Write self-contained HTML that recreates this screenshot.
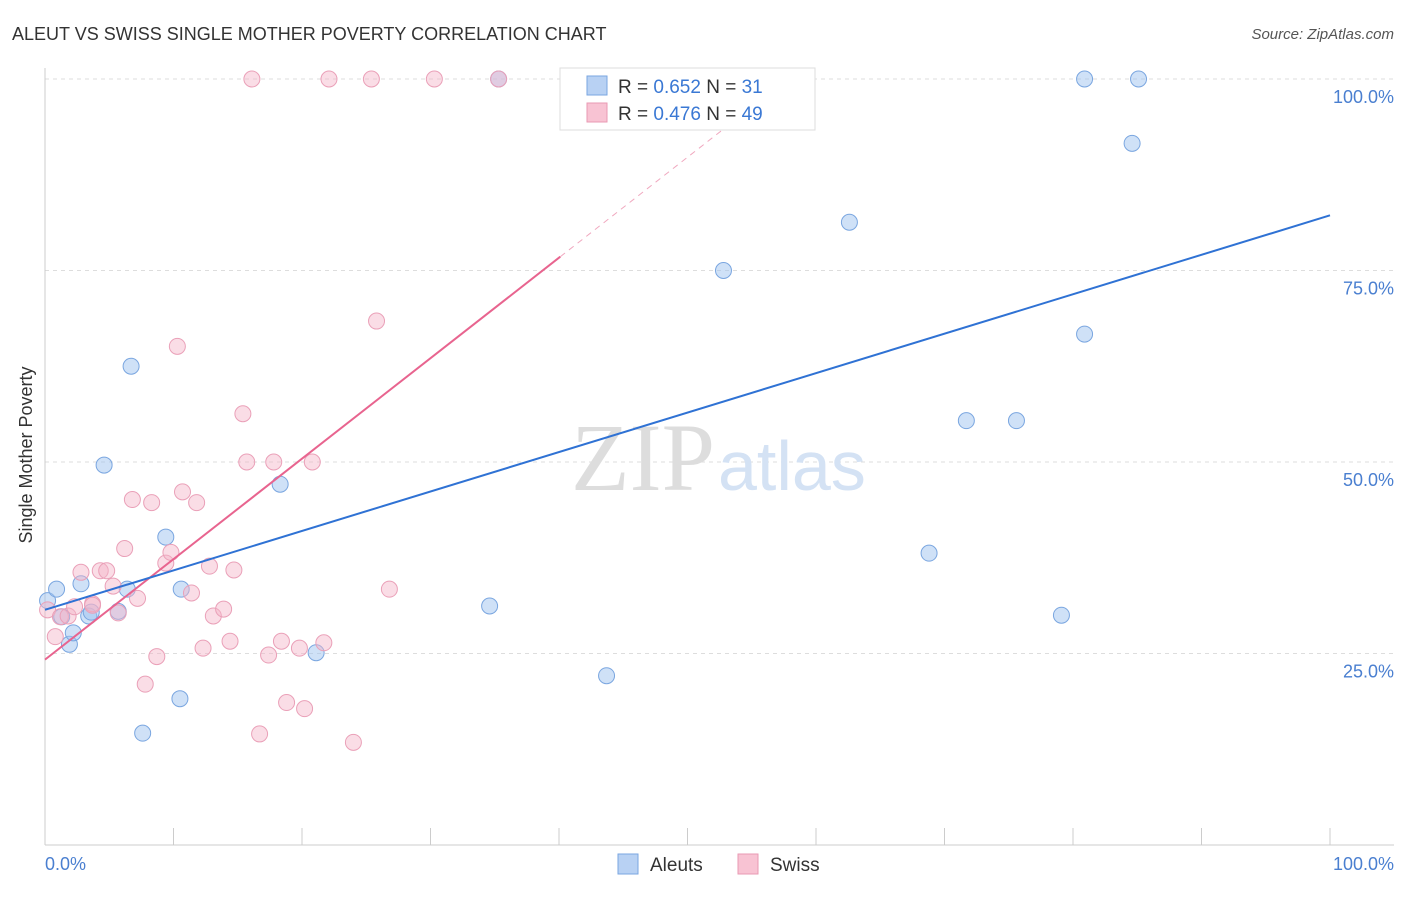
<!DOCTYPE html>
<html><head><meta charset="utf-8"><style>
body{margin:0;background:#fff;font-family:"Liberation Sans",sans-serif}
svg text{font-family:"Liberation Sans",sans-serif}
</style></head><body>
<svg width="1406" height="892">
<text x="12" y="40" font-size="18" fill="#333">ALEUT VS SWISS SINGLE MOTHER POVERTY CORRELATION CHART</text>
<text x="1394" y="39" font-size="15" fill="#555" text-anchor="end" font-style="italic">Source: ZipAtlas.com</text>
<g id="grid"></g>
<text x="715" y="490" font-size="96" fill="#ddd" text-anchor="end" style="font-family:'Liberation Serif',serif">ZIP</text>
<text x="718" y="490" font-size="70" fill="#d4e2f4">atlas</text>
<text x="32" y="455" font-size="18" fill="#333" transform="rotate(-90 32 455)" text-anchor="middle">Single Mother Poverty</text>
<text x="45" y="870" font-size="18" fill="#4a7fd0">0.0%</text>
<text x="1394" y="870" font-size="18" fill="#4a7fd0" text-anchor="end">100.0%</text>
<g id="marks"></g>
<g>
<rect x="560" y="68" width="255" height="62" fill="#fff" stroke="#ddd"/>
<rect x="587" y="76" width="20" height="19" fill="#b8d1f3" stroke="#7aa6e0"/>
<rect x="587" y="103" width="20" height="19" fill="#f8c3d3" stroke="#e99ab3"/>
<text x="618" y="93" font-size="19" fill="#333">R = <tspan fill="#3a78d4">0.652</tspan>   N = <tspan fill="#3a78d4"> 31</tspan></text>
<text x="618" y="120" font-size="19" fill="#333">R = <tspan fill="#3a78d4">0.476</tspan>   N = <tspan fill="#3a78d4">49</tspan></text>
</g>
<g>
<rect x="618" y="854" width="20" height="20" fill="#b8d1f3" stroke="#7aa6e0"/>
<text x="650" y="871" font-size="19" fill="#333">Aleuts</text>
<rect x="738" y="854" width="20" height="20" fill="#f8c3d3" stroke="#e99ab3"/>
<text x="770" y="871" font-size="19" fill="#333">Swiss</text>
</g>
</svg>
<script>
const yTicks=[25,50,75,100];
const xTicks=[0,10,20,30,40,50,60,70,80,90,100];
const aleutX=[0.2,0.9,1.9,2.2,2.8,3.4,4.6,5.7,6.4,6.7,7.6,9.4,10.6,10.5,18.3,21.1,34.6,35.3,43.7,52.8,62.6,68.8,71.7,75.6,79.1,80.9,80.9,84.6,85.1,1.3,3.6];
const aleutY=[31.9,33.4,26.2,27.7,34.1,29.9,49.6,30.5,33.4,62.5,14.6,40.2,33.4,19.1,47.1,25.1,31.2,100,22.1,75,81.3,38.1,55.4,55.4,30.0,100,66.7,91.6,100,29.8,30.4];
const swissX=[0.2,0.8,1.2,1.8,2.3,2.8,3.7,4.3,4.8,5.3,5.7,6.2,6.8,7.2,7.8,8.3,8.7,9.4,9.8,10.3,10.7,11.4,11.8,12.3,12.8,13.1,13.9,14.4,14.7,15.4,15.7,16.1,16.7,17.4,17.8,18.4,18.8,19.8,20.2,20.8,21.7,22.1,24.0,25.4,25.8,26.8,30.3,35.3,3.7];
const swissY=[30.7,27.2,29.8,29.9,31.1,35.6,31.5,35.8,35.8,33.8,30.3,38.7,45.1,32.2,21.0,44.7,24.6,36.8,38.2,65.1,46.1,32.9,44.7,25.7,36.4,29.9,30.8,26.6,35.9,56.3,50,100,14.5,24.8,50,26.6,18.6,25.7,17.8,50,26.4,100,13.4,100,68.4,33.4,100,100,31.3];
const blueLine=[30.7,82.2];
const pinkLine=[24.2,76.8];
const pinkSolidEnd=40.1, pinkDashEnd=57.8;
const X=v=>45+v*12.85, Y=v=>845-v*7.66;
const NS='http://www.w3.org/2000/svg';
function mk(parent,tag,attrs){const e=document.createElementNS(NS,tag);for(const k in attrs)e.setAttribute(k,attrs[k]);parent.appendChild(e);return e;}
const g=document.getElementById('grid'), m=document.getElementById('marks');
yTicks.forEach(t=>{
 const l=mk(g,'line',{x1:45,x2:1394,y1:Y(t),y2:Y(t),stroke:'#ddd','stroke-dasharray':'4,4'});
 
 
 const tx=mk(g,'text',{x:1394,y:Y(t)+24,'font-size':18,fill:'#4a7fd0','text-anchor':'end'});
 tx.textContent=t.toFixed(1)+'%';
 
 
});
const ax=mk(g,'line',{x1:45,x2:45,y1:68,y2:845,stroke:'#ccc'});


const bx=mk(g,'line',{x1:45,x2:1394,y1:845,y2:845,stroke:'#ccc'});


xTicks.forEach(t=>{
 const l=mk(g,'line',{x1:X(t),x2:X(t),y1:828,y2:845,stroke:'#ccc'});
 
 
});
aleutX.forEach((v,i)=>{
 const c=mk(m,'circle',{cx:X(v),cy:Y(aleutY[i]),r:8,fill:'rgba(160,195,240,0.5)',stroke:'#7aa6e0','stroke-width':1});
 
 
});
swissX.forEach((v,i)=>{
 const c=mk(m,'circle',{cx:X(v),cy:Y(swissY[i]),r:8,fill:'rgba(245,180,200,0.45)',stroke:'#eaa0b8','stroke-width':1});
 
 
});
const ps=(pinkLine[1]-pinkLine[0])/pinkSolidEnd;
const pl=mk(m,'line',{x1:X(0),y1:Y(pinkLine[0]),x2:X(pinkSolidEnd),y2:Y(pinkLine[0]+ps*pinkSolidEnd),stroke:'#e8648f','stroke-width':2});


const pd=mk(m,'line',{x1:X(pinkSolidEnd),y1:Y(pinkLine[0]+ps*pinkSolidEnd),x2:X(pinkDashEnd),y2:Y(pinkLine[0]+ps*pinkDashEnd),stroke:'#f0a8bf','stroke-width':1,'stroke-dasharray':'6,5'});


const bl=mk(m,'line',{x1:X(0),y1:Y(blueLine[0]),x2:X(100),y2:Y(blueLine[1]),stroke:'#2f72d4','stroke-width':2});


</script>
</body></html>
